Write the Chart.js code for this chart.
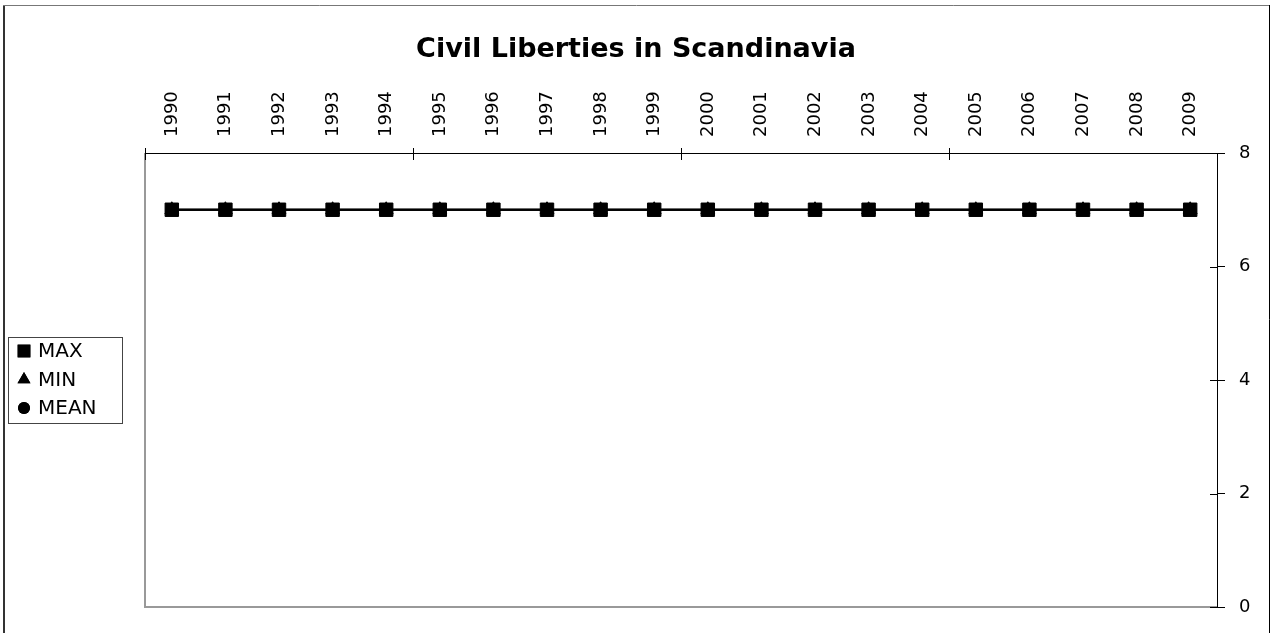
<!DOCTYPE html>
<html>
<head>
<meta charset="utf-8">
<script src="https://cdn.jsdelivr.net/npm/chart.js@4.4.1/dist/chart.umd.min.js"></script>
<style>
  html, body { margin: 0; padding: 0; background: #fff; }
  #wrap { width: 1272px; height: 633px; }
</style>
</head>
<body>
<div id="wrap"><canvas id="chart" width="1272" height="633"></canvas></div>
<script>
// данные графика
const years = ['1990', '1991', '1992', '1993', '1994', '1995', '1996', '1997', '1998', '1999',
               '2000', '2001', '2002', '2003', '2004', '2005', '2006', '2007', '2008', '2009'];
const maxValues  = [7, 7, 7, 7, 7, 7, 7, 7, 7, 7, 7, 7, 7, 7, 7, 7, 7, 7, 7, 7];
const minValues  = [7, 7, 7, 7, 7, 7, 7, 7, 7, 7, 7, 7, 7, 7, 7, 7, 7, 7, 7, 7];
const meanValues = [7, 7, 7, 7, 7, 7, 7, 7, 7, 7, 7, 7, 7, 7, 7, 7, 7, 7, 7, 7];
const yTicks = [0, 2, 4, 6, 8];

const FONT = 'DejaVu Sans';

// рамки, внутренние засечки и легенда
const framePlugin = {
    id: 'frame',
    afterDraw(chart) {
        const ctx = chart.ctx;
        const area = chart.chartArea;
        const x = chart.scales.x;
        const y = chart.scales.y;
        ctx.save();

        // внешняя рамка
        ctx.strokeStyle = '#333';
        ctx.lineWidth = 2;
        ctx.beginPath(); ctx.moveTo(4, 5); ctx.lineTo(4, 640); ctx.stroke();
        ctx.lineWidth = 1;
        ctx.strokeStyle = '#777';
        ctx.beginPath(); ctx.moveTo(3, 5.5); ctx.lineTo(1270, 5.5); ctx.stroke();
        ctx.strokeStyle = '#000';
        ctx.beginPath(); ctx.moveTo(1269.5, 5); ctx.lineTo(1269.5, 640); ctx.stroke();

        // серые границы области построения
        ctx.strokeStyle = '#999';
        ctx.lineWidth = 2;
        ctx.beginPath();
        ctx.moveTo(area.left, area.top);
        ctx.lineTo(area.left, area.bottom);
        ctx.lineTo(area.right, area.bottom);
        ctx.stroke();

        // засечки внутрь
        ctx.strokeStyle = '#000';
        ctx.lineWidth = 1;
        const step = x.getPixelForValue(1) - x.getPixelForValue(0);
        for (let i = 0; i <= years.length; i += 5) {
            const px = Math.round(x.getPixelForValue(i) - step / 2) + 0.5;
            ctx.beginPath(); ctx.moveTo(px, area.top); ctx.lineTo(px, area.top + 7); ctx.stroke();
        }
        yTicks.forEach(v => {
            const py = Math.round(y.getPixelForValue(v)) + 0.5;
            ctx.beginPath(); ctx.moveTo(area.right - 7, py); ctx.lineTo(area.right, py); ctx.stroke();
        });

        // легенда
        ctx.strokeStyle = '#444';
        ctx.strokeRect(8.5, 337.5, 114, 86);
        ctx.font = '20px ' + FONT;
        ctx.textBaseline = 'middle';
        ctx.fillStyle = '#000';
        chart.data.datasets.forEach((ds, i) => {
            const cy = 351 + i * 28.5;
            Chart.helpers.drawPoint(ctx, {
                pointStyle: ds.pointStyle, rotation: 0, radius: ds.legendRadius, borderWidth: 0
            }, 24, cy);
            ctx.fillStyle = '#000';
            ctx.fill();
            ctx.fillText(ds.label, 38, cy + 1);
        });
        ctx.restore();
    }
};

function makeSet(label, values, style, radius, legendRadius) {
    return {
        label: label,
        data: values,
        yAxisID: 'y',
        xAxisID: 'x',
        borderColor: '#000',
        backgroundColor: '#000',
        borderWidth: 2,
        pointStyle: style,
        pointRadius: radius,
        pointHoverRadius: radius,
        pointBackgroundColor: '#000',
        pointBorderColor: '#000',
        pointBorderWidth: 1,
        legendRadius: legendRadius,
        tension: 0
    };
}

const chart = new Chart(document.getElementById('chart').getContext('2d'), {
    type: 'line',
    data: {
        labels: years,
        datasets: [
            makeSet('MAX', maxValues, 'rect', 9.5, 9),
            makeSet('MIN', minValues, 'triangle', 8, 7.5),
            makeSet('MEAN', meanValues, 'circle', 6, 6)
        ]
    },
    options: {
        responsive: false,
        animation: false,
        layout: { padding: { left: 0, right: 0, top: 0, bottom: 26 } },
        plugins: {
            legend: { display: false },
            tooltip: { enabled: false },
            title: {
                display: true,
                text: 'Civil Liberties in Scandinavia',
                color: '#000',
                font: { family: FONT, size: 27, weight: 'bold', lineHeight: 1.2 },
                padding: { top: 34, bottom: 0 }
            }
        },
        scales: {
            x: {
                type: 'category',
                position: 'top',
                offset: true,
                afterFit(scale) { scale.height = 86.6; },
                border: { color: '#000', width: 1 },
                grid: {
                    offset: true,
                    drawOnChartArea: false,
                    tickLength: 5,
                    color: ctx => (ctx.index % 5 === 0 ? '#000' : 'rgba(0,0,0,0)')
                },
                ticks: {
                    color: '#000',
                    font: { family: FONT, size: 18 },
                    minRotation: 90,
                    maxRotation: 90,
                    autoSkip: false,
                    padding: 11,
                    labelOffset: 22
                }
            },
            y: {
                position: 'right',
                min: 0,
                max: 8,
                afterFit(scale) { scale.width = 55; },
                border: { color: '#000', width: 1 },
                grid: { drawOnChartArea: false, tickLength: 8, color: '#000' },
                ticks: {
                    stepSize: 2,
                    color: '#000',
                    font: { family: FONT, size: 18 },
                    padding: 14
                }
            },
            // пустая ось слева — место под легенду
            pad: {
                type: 'linear',
                axis: 'y',
                position: 'left',
                display: true,
                afterFit(scale) { scale.width = 145; },
                border: { display: false },
                grid: { display: false },
                ticks: { display: false }
            }
        }
    },
    plugins: [framePlugin]
});
</script>
</body>
</html>
